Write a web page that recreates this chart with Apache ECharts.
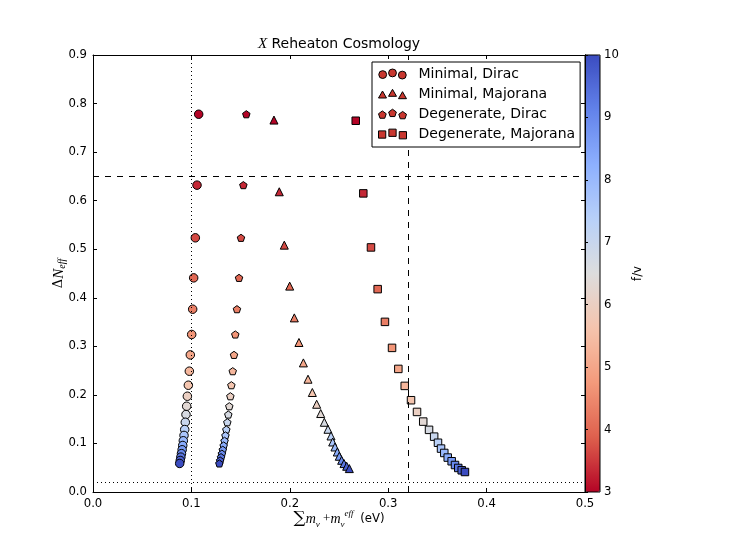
<!DOCTYPE html>
<html>
<head>
<meta charset="utf-8">
<title>X Reheaton Cosmology</title>
<script src="https://cdn.jsdelivr.net/npm/echarts@6/dist/echarts.min.js"></script>
<style>
  html, body { margin: 0; padding: 0; background: #fff; }
  #chart { width: 747px; height: 547px; }
</style>
</head>
<body>
<div id="chart"></div>
<script>
// f/v value of every point (same for all four series, index by index)
var fOverV = [3.00, 3.33, 3.67, 4.00, 4.33, 4.67, 5.00, 5.33, 5.67, 6.00, 6.33,
              6.67, 7.00, 7.33, 7.67, 8.00, 8.33, 8.67, 9.00, 9.33, 9.67, 10.00];

// Minimal, Dirac
var minDiracMass = [0.1074, 0.1057, 0.1040, 0.1023, 0.1013, 0.1003, 0.0989, 0.0979, 0.0969, 0.0959, 0.0952,
                    0.0945, 0.0938, 0.0932, 0.0925, 0.0918, 0.0912, 0.0906, 0.0899, 0.0893, 0.0887, 0.0881];
var minDiracNeff = [0.778, 0.632, 0.5235, 0.441, 0.3765, 0.3244, 0.2824, 0.2488, 0.2199, 0.1972, 0.1766,
                    0.1595, 0.1436, 0.1286, 0.1165, 0.1055, 0.0958, 0.0870, 0.0790, 0.0718, 0.0650, 0.0588];

// Minimal, Majorana
var minMajMass = [0.1839, 0.1893, 0.1944, 0.1999, 0.2046, 0.2093, 0.2138, 0.2185, 0.2229, 0.2273, 0.2314,
                  0.2351, 0.2388, 0.2419, 0.2436, 0.2459, 0.2483, 0.2503, 0.2527, 0.2551, 0.2578, 0.2605];
var minMajNeff = [0.766, 0.6183, 0.5084, 0.424, 0.3586, 0.3079, 0.2659, 0.2323, 0.2049, 0.1807, 0.1616,
                  0.1436, 0.1292, 0.1154, 0.1030, 0.0927, 0.0824, 0.0736, 0.0653, 0.0585, 0.0530, 0.0482];

// Degenerate, Dirac
var degDiracMass = [0.1558, 0.1528, 0.1504, 0.1484, 0.1463, 0.1446, 0.1433, 0.1420, 0.1406, 0.1396, 0.1385,
                    0.1375, 0.1365, 0.1355, 0.1346, 0.1337, 0.1328, 0.1319, 0.1310, 0.1301, 0.1292, 0.1284];
var degDiracNeff = [0.778, 0.632, 0.5235, 0.441, 0.3765, 0.3244, 0.2824, 0.2488, 0.2199, 0.1972, 0.1766,
                    0.1595, 0.1436, 0.1286, 0.1165, 0.1055, 0.0958, 0.0870, 0.0790, 0.0718, 0.0650, 0.0588];

// Degenerate, Majorana
var degMajMass = [0.2670, 0.2747, 0.2825, 0.2893, 0.2967, 0.3039, 0.3103, 0.3168, 0.3232, 0.3293, 0.3356,
                  0.3415, 0.3467, 0.3506, 0.3537, 0.3570, 0.3605, 0.3645, 0.3679, 0.3712, 0.3747, 0.3780];
var degMajNeff = [0.7646, 0.6150, 0.5037, 0.4178, 0.3504, 0.2968, 0.2535, 0.2185, 0.1890, 0.1649, 0.1450,
                  0.1280, 0.1140, 0.1014, 0.0894, 0.0804, 0.0709, 0.0633, 0.0556, 0.0495, 0.0447, 0.0412];

var seriesNames = ['Minimal, Dirac', 'Minimal, Majorana', 'Degenerate, Dirac', 'Degenerate, Majorana'];

// reference lines
var dashedNeff = 0.654;
var dashedMass = 0.32;
var dottedMass = 0.1;
var dottedNeff = 0.02;

var xTicks = [0.0, 0.5, 0.1];   // min, max, step
var yTicks = [0.0, 0.9, 0.1];
var cbTicks = [3, 10, 1];

// coolwarm, reversed (3 -> red, 10 -> blue)
var coolwarmR = ['#b40426', '#de604d', '#f49a7b', '#f5c4ad', '#dddddd', '#b8d0f9', '#8db0fe', '#6282ea', '#3b4cc0'];

var pentagon = 'path://M0,-1L0.951,-0.309L0.588,0.809L-0.588,0.809L-0.951,-0.309Z';

// legend icons with three markers like matplotlib scatterpoints
var legendIcons = [
  'path://M0,6a4,4 0 1,0 8,0a4,4 0 1,0 -8,0M10,4.3a4,4 0 1,0 8,0a4,4 0 1,0 -8,0M20,6.5a4,4 0 1,0 8,0a4,4 0 1,0 -8,0',
  'path://M4,2.5L8,9.5L0,9.5ZM14,0.8L18,7.8L10,7.8ZM24,3.2L28,10.2L20,10.2Z',
  'path://M4,2L7.8,4.76L6.35,9.24L1.65,9.24L0.2,4.76ZM14,0.3L17.8,3.06L16.35,7.54L11.65,7.54L10.2,3.06ZM24,2.5L27.8,5.26L26.35,9.74L21.65,9.74L20.2,5.26Z',
  'path://M0.5,2.5L7.5,2.5L7.5,9.5L0.5,9.5ZM10.5,0.8L17.5,0.8L17.5,7.8L10.5,7.8ZM20.5,3.2L27.5,3.2L27.5,10.2L20.5,10.2Z'
];

function zip(xs, ys) {
  return xs.map(function (x, i) { return [x, ys[i], fOverV[i]]; });
}

var chartDom = document.getElementById('chart');
var myChart = echarts.init(chartDom, null, { renderer: 'canvas' });

var sans = 'DejaVu Sans';
var serif = 'Liberation Serif';
var tickFont = 11.7;

function markerSeries(name, data, symbol, size) {
  return {
    name: name,
    type: 'scatter',
    xAxisIndex: 0,
    yAxisIndex: 0,
    data: data,
    symbol: symbol,
    symbolSize: size,
    symbolKeepAspect: true,
    itemStyle: { color: '#c8372f', borderColor: '#000', borderWidth: 1, opacity: 1 },
    emphasis: { disabled: true },
    z: 3
  };
}

var series = [
  markerSeries(seriesNames[0], zip(minDiracMass, minDiracNeff), 'circle', 8.5),
  markerSeries(seriesNames[1], zip(minMajMass, minMajNeff), 'triangle', 8),
  markerSeries(seriesNames[2], zip(degDiracMass, degDiracNeff), pentagon, 7.5),
  markerSeries(seriesNames[3], zip(degMajMass, degMajNeff), 'rect', 7.5)
];

series[0].markLine = {
  silent: true,
  symbol: ['none', 'none'],
  label: { show: false },
  animation: false,
  data: [
    { yAxis: dashedNeff, lineStyle: { type: [6, 6], color: '#000', width: 1 } },
    { xAxis: dashedMass, lineStyle: { type: [6, 6], color: '#000', width: 1 } },
    { xAxis: dottedMass, lineStyle: { type: [1, 3], color: '#000', width: 1 } },
    { yAxis: dottedNeff, lineStyle: { type: [1, 3], color: '#000', width: 1 } }
  ]
};

function frameAxis(dim, pos, ticks, showLabel) {
  var ax = {
    type: 'value',
    gridIndex: 0,
    position: pos,
    min: ticks[0],
    max: ticks[1],
    interval: ticks[2],
    axisLine: { show: true, onZero: false, lineStyle: { color: '#000', width: 1 } },
    axisTick: { show: true, inside: true, length: 4, lineStyle: { color: '#000', width: 1 } },
    splitLine: { show: false },
    axisLabel: {
      show: showLabel,
      color: '#000',
      fontFamily: sans,
      fontSize: tickFont,
      margin: 6,
      formatter: function (v) { return v.toFixed(1); }
    }
  };
  return ax;
}

var xBottom = frameAxis('x', 'bottom', xTicks, true);
xBottom.name = '{sum|∑}{m|m}{sub|ν} {op|+}{m|m}{sub|ν}{sup|eff}  {t|(eV)}';
xBottom.nameLocation = 'middle';
xBottom.nameGap = 17;
xBottom.nameMoveOverlap = false;
xBottom.nameTextStyle = {
  color: '#000',
  rich: {
    sum: { fontFamily: 'DejaVu Serif', fontSize: 17, lineHeight: 20, color: '#000', verticalAlign: 'middle' },
    m: { fontFamily: serif, fontStyle: 'italic', fontSize: 14, color: '#000', verticalAlign: 'middle' },
    op: { fontFamily: serif, fontSize: 13, color: '#000', verticalAlign: 'middle' },
    sub: { fontFamily: serif, fontStyle: 'italic', fontSize: 9, lineHeight: 9, color: '#000', verticalAlign: 'bottom' },
    sup: { fontFamily: serif, fontStyle: 'italic', fontSize: 9, lineHeight: 9, color: '#000', verticalAlign: 'top' },
    t: { fontFamily: sans, fontSize: tickFont, color: '#000', verticalAlign: 'middle' }
  }
};

var yLeft = frameAxis('y', 'left', yTicks, true);
yLeft.name = '{d|Δ}{n|N}{s|eff}';
yLeft.nameLocation = 'middle';
yLeft.nameRotate = 90;
yLeft.nameGap = 26;
yLeft.nameMoveOverlap = false;
yLeft.nameTextStyle = {
  color: '#000',
  rich: {
    d: { fontFamily: 'DejaVu Serif', fontSize: 13, lineHeight: 16, color: '#000', verticalAlign: 'middle' },
    n: { fontFamily: serif, fontStyle: 'italic', fontSize: 15, lineHeight: 16, color: '#000', verticalAlign: 'middle' },
    s: { fontFamily: serif, fontStyle: 'italic', fontSize: 10, lineHeight: 10, color: '#000', verticalAlign: 'bottom' }
  }
};

var option = {
  animation: false,
  backgroundColor: '#fff',
  title: {
    text: '{x|X} Reheaton Cosmology',
    left: 339,
    top: 37,
    padding: 0,
    textAlign: 'center',
    textStyle: {
      fontFamily: sans,
      fontSize: 14,
      fontWeight: 'normal',
      color: '#000',
      rich: {
        x: { fontFamily: serif, fontStyle: 'italic', fontSize: 15, color: '#000' }
      }
    }
  },
  legend: {
    orient: 'vertical',
    left: 372,
    top: 62,
    padding: [4, 5, 5, 6],
    itemGap: 4,
    itemWidth: 28,
    itemHeight: 10,
    selectedMode: false,
    backgroundColor: '#fff',
    borderColor: '#000',
    borderWidth: 1,
    borderRadius: 0,
    itemStyle: { borderColor: '#000', borderWidth: 1 },
    textStyle: { fontFamily: sans, fontSize: 14, lineHeight: 16, color: '#000', padding: [0, 0, 0, 7] },
    data: seriesNames.map(function (n, i) { return { name: n, icon: legendIcons[i] }; }),
    z: 20
  },
  grid: [
    { left: 93, top: 55, width: 492, height: 437, show: false },
    { left: 585, top: 55, width: 15, height: 437, show: true, borderColor: '#000', borderWidth: 1, backgroundColor: 'transparent', z: 10 }
  ],
  xAxis: [
    xBottom,
    frameAxis('x', 'top', xTicks, false),
    { type: 'value', gridIndex: 1, show: false, min: 0, max: 1 }
  ],
  yAxis: [
    yLeft,
    frameAxis('y', 'right', yTicks, false),
    {
      type: 'value',
      gridIndex: 1,
      position: 'right',
      min: cbTicks[0],
      max: cbTicks[1],
      interval: cbTicks[2],
      axisLine: { show: true, lineStyle: { color: '#000', width: 1 } },
      axisTick: { show: true, inside: false, length: 3, lineStyle: { color: '#000', width: 1 } },
      splitLine: { show: false },
      axisLabel: { color: '#000', fontFamily: sans, fontSize: tickFont, margin: 4 },
      name: 'f/v',
      nameLocation: 'middle',
      nameRotate: 90,
      nameGap: 32,
      nameMoveOverlap: false,
      nameTextStyle: { color: '#000', fontFamily: sans, fontSize: tickFont },
      z: 10
    }
  ],
  visualMap: {
    type: 'continuous',
    min: cbTicks[0],
    max: cbTicks[1],
    dimension: 2,
    seriesIndex: [0, 1, 2, 3],
    calculable: false,
    hoverLink: false,
    realtime: false,
    left: 585,
    top: 55,
    padding: 0,
    itemWidth: 15,
    itemHeight: 437,
    text: null,
    inRange: { color: coolwarmR }
  },
  series: series
};

option && myChart.setOption(option);
</script>
</body>
</html>
